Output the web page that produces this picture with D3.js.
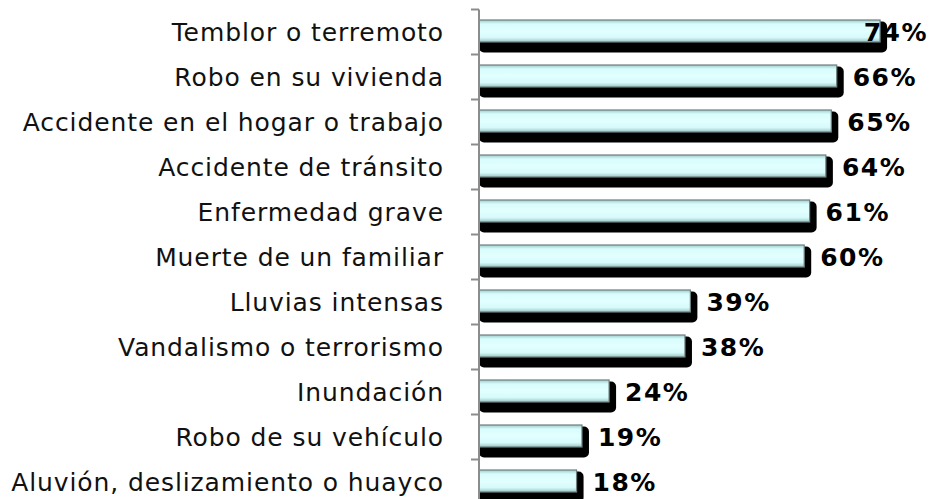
<!DOCTYPE html>
<html><head><meta charset="utf-8">
<script src="https://cdn.jsdelivr.net/npm/d3@7"></script>
<style>body{margin:0;background:#fff}svg{display:block}</style>
</head><body><svg id="c" width="932" height="499"></svg>
<script>
const categories = ["Temblor o terremoto","Robo en su vivienda","Accidente en el hogar o trabajo","Accidente de tránsito","Enfermedad grave","Muerte de un familiar","Lluvias intensas","Vandalismo o terrorismo","Inundación","Robo de su vehículo","Aluvión, deslizamiento o huayco"];
const values = [74,66,65,64,61,60,39,38,24,19,18];

const W = 932, H = 499;
const svg = d3.select("#c");
const y = d3.scaleBand().domain(categories).range([9.5, 9.5 + 45*categories.length]).padding(0);
const x = d3.scaleLinear().domain([0,100]).range([479, 1021]);

const defs = svg.append("defs");
const g = defs.append("linearGradient").attr("id","bg").attr("x1",0).attr("y1",0).attr("x2",0).attr("y2",1);
[[0,"#9fcaca"],[0.18,"#d8fcfc"],[0.5,"#e2ffff"],[0.8,"#d6fafa"],[1,"#9cc4c4"]].forEach(s=>g.append("stop").attr("offset",s[0]).attr("stop-color",s[1]));

const rows = svg.append("g").selectAll("g").data(categories).join("g");
// shadows
rows.append("rect")
  .attr("x", x(0))
  .attr("y", d => y(d) + 12)
  .attr("width", (d,i) => x(values[i]) - x(0) + 7)
  .attr("height", 31)
  .attr("rx", 5)
  .attr("fill", "#000");
// bars
rows.append("rect")
  .attr("x", x(0))
  .attr("y", d => y(d) + 10.5)
  .attr("width", (d,i) => x(values[i]) - x(0))
  .attr("height", 22)
  .attr("fill", "url(#bg)")
  .attr("stroke", "#6f7f7f")
  .attr("stroke-width", 1.2);

// axis
svg.append("line").attr("x1", x(0)).attr("x2", x(0)).attr("y1", y.range()[0]).attr("y2", H+5)
  .attr("stroke","#8c8c8c").attr("stroke-width",2);
svg.append("g").selectAll("line").data(categories).join("line")
  .attr("x1", x(0)-8).attr("x2", x(0)).attr("y1", d=>y(d)).attr("y2", d=>y(d))
  .attr("stroke","#8c8c8c").attr("stroke-width",2);

// category labels
svg.append("g").selectAll("text").data(categories).join("text")
  .attr("x", 444)
  .attr("y", d => y(d) + y.bandwidth()/2)
  .attr("dy","0.36em")
  .attr("text-anchor","end")
  .attr("font-family","DejaVu Sans, Verdana, sans-serif")
  .attr("font-size", 25)
  .attr("letter-spacing", 0.9)
  .attr("fill","#111")
  .text(d => d);

// value labels
svg.append("g").selectAll("text").data(categories).join("text")
  .attr("y", d => y(d) + y.bandwidth()/2)
  .attr("dy","0.36em")
  .attr("font-family","DejaVu Sans, Verdana, sans-serif")
  .attr("font-weight","bold")
  .attr("font-size", 25)
  .attr("letter-spacing", 1.5)
  .attr("fill","#000")
  .text((d,i)=>values[i] + "%")
  .each(function(d,i){
    const tw = this.getComputedTextLength();
    d3.select(this).attr("x", Math.min(x(values[i]) + 16, W - 4 - tw));
  });
</script></body></html>
